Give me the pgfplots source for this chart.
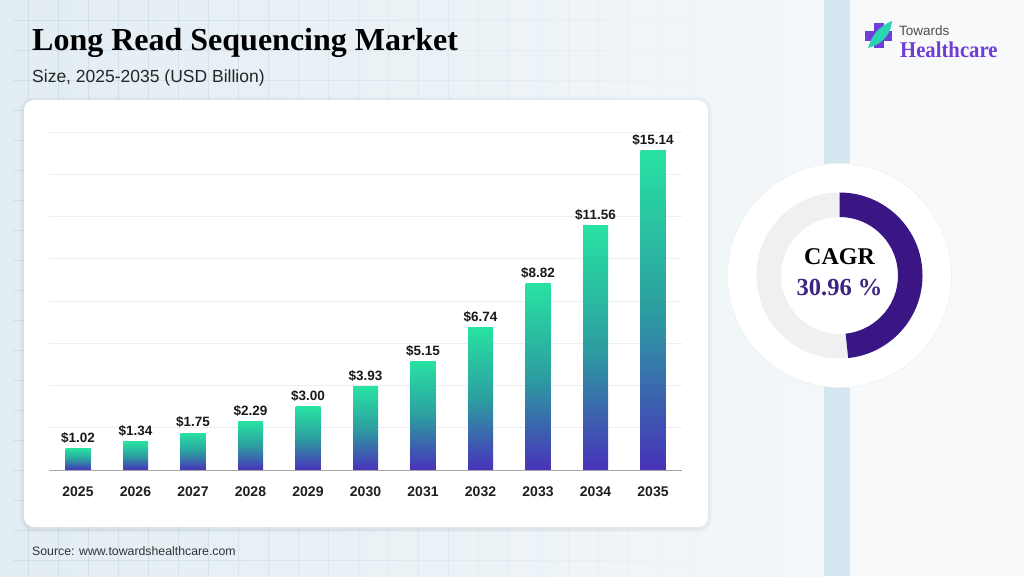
\documentclass[border=0pt]{standalone}
\usepackage{fontspec}
\setmainfont{Liberation Sans}
\newfontfamily\serif{Liberation Serif}
\usepackage{pgfplots}
\pgfplotsset{compat=1.18}
\definecolor{bgL}{RGB}{226,237,243}
\definecolor{bgR}{RGB}{243,247,250}
\definecolor{stripe}{RGB}{212,230,239}
\definecolor{bgRight}{RGB}{247,249,251}
\definecolor{gridbg}{RGB}{200,217,227}
\definecolor{barTop}{RGB}{40,226,162}
\definecolor{barMid}{RGB}{44,158,160}
\definecolor{barBot}{RGB}{72,50,186}
\definecolor{gridgray}{RGB}{236,238,240}
\definecolor{cagr}{RGB}{58,22,132}
\definecolor{cagrtxt}{RGB}{60,36,130}
\definecolor{ring}{RGB}{240,239,241}
\definecolor{logop}{RGB}{112,62,214}
\definecolor{logot}{RGB}{42,212,178}
\begin{document}
\begin{tikzpicture}[x=1pt,y=1pt]
\useasboundingbox (0,0) rectangle (1024,576);
% background
\shade[left color=bgL, right color=bgR] (0,0) rectangle (824,576);
\fill[bgRight] (850,0) rectangle (1024,576);
\fill[stripe] (824,0) rectangle (850,576);
\foreach \i in {28,58,...,718} {%
  \pgfmathsetmacro\op{0.7*(1-\i/760)}%
  \draw[gridbg, line width=0.7pt, opacity=\op] (\i,0) -- (\i,576);
  \foreach \j in {16,46,...,576} {\draw[gridbg, line width=0.7pt, opacity=\op] (\i-15,\j) -- (\i+15,\j);}%
}
% panel shadow + panel
\fill[black, opacity=0.025, rounded corners=13] (20,44) rectangle (712,479);
\fill[black, opacity=0.03, rounded corners=11] (22,46) rectangle (710,477);
\fill[white, rounded corners=10] (24,49) rectangle (708,476);
% titles
\node[anchor=base west, inner sep=0] at (32,525) {\serif\bfseries\fontsize{32}{32}\selectfont Long Read Sequencing Market};
\node[anchor=base west, inner sep=0, text=black!85] at (32,493) {\fontsize{17.5}{17.5}\selectfont Size, 2025-2035 (USD Billion)};
\node[anchor=base west, inner sep=0, text=black!80] at (32,21) {\fontsize{12.3}{12.3}\selectfont Source: www.towardshealthcare.com};
% logo
\fill[logop] (874,528) rectangle (884,553);
\fill[logop] (865,535) rectangle (892,545);
\fill[logot] (868,528) .. controls (872,542) and (880,550) .. (892,555) .. controls (891,543) and (884,532) .. (868,528) -- cycle;
\node[anchor=base west, inner sep=0, text=black!70] at (899,540) {\fontsize{13.5}{13.5}\selectfont Towards};
\node[anchor=base west, inner sep=0, text=logop, xscale=0.92] at (900,518) {\serif\bfseries\fontsize{22.5}{22.5}\selectfont Healthcare};
% donut
\begin{scope}[shift={(839.5,300.5)}]
\fill[white] (0,0) circle (112);
\draw[black!6, line width=0.6pt] (0,0) circle (112);
\fill[ring, even odd rule] (0,0) circle (83) (0,0) circle (58.5);
\fill[cagr] (90:83) arc[start angle=90, end angle=-84, radius=83] -- (-84:58.5) arc[start angle=-84, end angle=90, radius=58.5] -- cycle;
\node[text=black] at (0,19) {\serif\bfseries\fontsize{24}{24}\selectfont CAGR};
\node[text=cagrtxt] at (0,-12) {\serif\bfseries\fontsize{24.5}{24.5}\selectfont 30.96 \%};
\end{scope}
% chart
\begin{axis}[
  at={(49.25pt,106pt)}, anchor=south west, scale only axis,
  width=632.5pt, height=338pt,
  xmin=-0.5, xmax=10.5, ymin=0, ymax=16,
  axis line style={draw=none},
  ytick={0,2,...,16}, yticklabels={},
  ymajorgrids, major grid style={color=gridgray, line width=0.7pt},
  xtick={0,...,10},
  xticklabels={2025,2026,2027,2028,2029,2030,2031,2032,2033,2034,2035},
  tick style={draw=none},
  xticklabel style={font=\bfseries\fontsize{14}{14}\selectfont, text=black!88, anchor=center, yshift=-17pt},
  ybar, bar width=25pt, bar shift=0pt,
  /pgf/number format/assume math mode=true,
  nodes near coords={\$\pgfmathprintnumber[fixed,fixed zerofill,precision=2]{\pgfplotspointmeta}},
  nodes near coords style={font=\bfseries\fontsize{13.5}{13.5}\selectfont, text=black!90, yshift=1.5pt},
  clip=false,
  every axis plot/.append style={draw=none, top color=barTop, bottom color=barBot, middle color=barMid},
]
\addplot coordinates {(0,1.02)};
\addplot coordinates {(1,1.34)};
\addplot coordinates {(2,1.75)};
\addplot coordinates {(3,2.29)};
\addplot coordinates {(4,3.00)};
\addplot coordinates {(5,3.93)};
\addplot coordinates {(6,5.15)};
\addplot coordinates {(7,6.74)};
\addplot coordinates {(8,8.82)};
\addplot coordinates {(9,11.56)};
\addplot coordinates {(10,15.14)};
\draw[black!35, line width=0.8pt] (axis cs:-0.5,0) -- (axis cs:10.5,0);
\end{axis}
\end{tikzpicture}
\end{document}
